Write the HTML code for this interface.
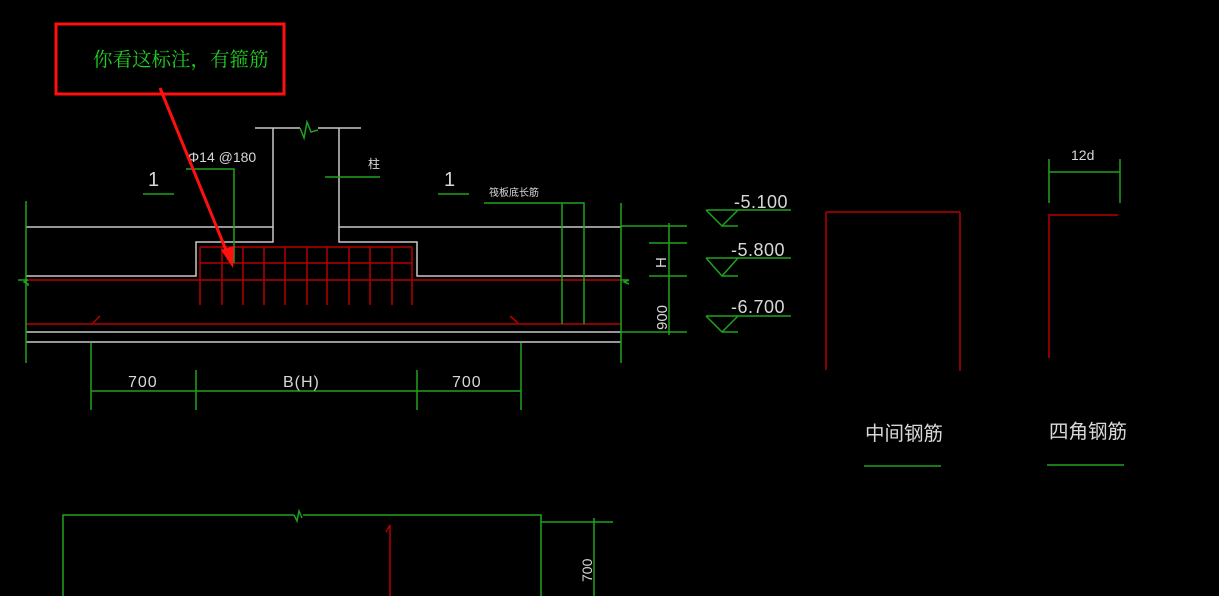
<!DOCTYPE html>
<html><head><meta charset="utf-8"><style>
html,body{margin:0;padding:0;background:#000;}
svg{display:block}
text{font-family:"Liberation Sans","Noto Sans CJK SC",sans-serif;}
</style></head><body>
<svg width="1219" height="596" viewBox="0 0 1219 596" xmlns="http://www.w3.org/2000/svg">
<rect width="1219" height="596" fill="#000"/>
<g fill="none" stroke-width="1.5">
<g stroke="#c8c8c8">
<polyline points="255,128 300,128"/><polyline points="318,128 361,128"/>
<polyline points="26,227 273,227 273,128"/>
<polyline points="339,128 339,227 621,227"/>
<polyline points="26,276 196,276 196,242 273,242 273,227"/>
<polyline points="339,227 339,242 417,242 417,276 621,276"/>
<line x1="26" y1="332" x2="621" y2="332"/>
<line x1="26" y1="342" x2="621" y2="342"/>
</g>
<path d="M300,128 l4,10 l3,-16 l4,10 l7,-2" stroke="#1fa31f"/>
<g stroke="#b50000">
<line x1="200" y1="247" x2="412" y2="247"/>
<line x1="200" y1="263" x2="412" y2="263"/>
<line x1="26" y1="280" x2="621" y2="280"/>
<line x1="26" y1="324" x2="621" y2="324"/>
<g>
<line x1="200" y1="247" x2="200" y2="305"/><line x1="222" y1="247" x2="222" y2="305"/>
<line x1="243" y1="247" x2="243" y2="305"/><line x1="264" y1="247" x2="264" y2="305"/>
<line x1="285" y1="247" x2="285" y2="305"/><line x1="307" y1="247" x2="307" y2="305"/>
<line x1="327" y1="247" x2="327" y2="305"/><line x1="349" y1="247" x2="349" y2="305"/>
<line x1="370" y1="247" x2="370" y2="305"/><line x1="392" y1="247" x2="392" y2="305"/>
<line x1="412" y1="247" x2="412" y2="305"/>
</g>
<line x1="93" y1="323" x2="100" y2="316"/><line x1="510" y1="316" x2="518" y2="323"/>
<line x1="826" y1="370" x2="826" y2="212"/><line x1="826" y1="212" x2="960" y2="212"/><line x1="960" y1="212" x2="960" y2="371"/>
<polyline points="1049,358 1049,215 1118,215"/>
<line x1="390" y1="525" x2="390" y2="596"/><line x1="390" y1="525" x2="386" y2="532"/>
</g>
<g stroke="#1fa31f">
<line x1="26" y1="201" x2="26" y2="363"/>
<line x1="621" y1="203" x2="621" y2="363"/>
<path d="M18,280 h10 l-4,2 l4,2 v2"/><path d="M621,280 h8 l-5,2 l5,2"/>
<polyline points="186,169 234,169 234,263"/>
<line x1="325" y1="177" x2="380" y2="177"/>
<line x1="143" y1="194" x2="174" y2="194"/>
<line x1="438" y1="194" x2="469" y2="194"/>
<polyline points="484,203 584,203 584,324"/>
<line x1="562" y1="203" x2="562" y2="324"/>
<line x1="91" y1="391" x2="521" y2="391"/>
<line x1="91" y1="343" x2="91" y2="410"/><line x1="196" y1="370" x2="196" y2="410"/>
<line x1="417" y1="370" x2="417" y2="410"/><line x1="521" y1="343" x2="521" y2="410"/>
<line x1="621" y1="226" x2="687" y2="226"/><line x1="649" y1="243" x2="687" y2="243"/>
<line x1="649" y1="276" x2="687" y2="276"/><line x1="621" y1="332" x2="687" y2="332"/>
<line x1="669" y1="223" x2="669" y2="335"/>
<polyline points="706,210 791,210"/><polyline points="706,210 722,226 738,226"/><line x1="722" y1="226" x2="738" y2="210"/>
<polyline points="706,258 791,258"/><polyline points="706,258 722,276 738,276"/><line x1="722" y1="276" x2="738" y2="258"/>
<polyline points="706,316 791,316"/><polyline points="706,316 722,332 738,332"/><line x1="722" y1="332" x2="738" y2="316"/>
<line x1="1049" y1="172" x2="1120" y2="172"/>
<line x1="1049" y1="159" x2="1049" y2="203"/><line x1="1120" y1="159" x2="1120" y2="203"/>
<line x1="864" y1="466" x2="941" y2="466"/><line x1="1047" y1="465" x2="1124" y2="465"/>
<polyline points="63,596 63,515 294,515"/>
<path d="M294,515 l3,6 l2,-10 l3,7" /><polyline points="303,515 541,515 541,596"/>
<line x1="541" y1="522" x2="613" y2="522"/><line x1="594" y1="518" x2="594" y2="596"/>
</g>
</g>
<g fill="#d8d8d8" font-size="15">
<text x="128" y="387" font-size="16" letter-spacing="1">700</text>
<text x="283" y="387" font-size="16" letter-spacing="1">B(H)</text>
<text x="452" y="387" font-size="16" letter-spacing="1">700</text>
<text x="188" y="162" font-size="14">Φ14 @180</text>
<text x="148" y="186" font-size="20">1</text>
<text x="444" y="186" font-size="20">1</text>
<text x="368" y="168" font-size="12">柱</text>
<text x="489" y="196" font-size="10">筏板底长筋</text>
<text x="734" y="208" font-size="18" letter-spacing="0.5">-5.100</text>
<text x="731" y="256" font-size="18" letter-spacing="0.5">-5.800</text>
<text x="731" y="313" font-size="18" letter-spacing="0.5">-6.700</text>
<text x="1071" y="160" font-size="14">12d</text>
<text x="865" y="440" font-size="19.5">中间钢筋</text>
<text x="1049" y="438" font-size="19.5">四角钢筋</text>
<text transform="translate(666,268) rotate(-90)" font-size="15">H</text>
<text transform="translate(667,330) rotate(-90)" font-size="15">900</text>
<text transform="translate(592,582) rotate(-90)" font-size="14">700</text>
</g>
<rect x="56" y="24" width="228" height="70" fill="none" stroke="#ff1010" stroke-width="3"/>
<text x="93" y="66" fill="#20d020" font-size="19.5" style="font-family:'Noto Serif CJK SC',serif">你看这标注，有箍筋</text>
<line x1="160" y1="88" x2="228" y2="255" stroke="#ff1010" stroke-width="3"/>
<polygon points="233,268 221,250 234,246" fill="#ff1010"/>
</svg>
</body></html>
